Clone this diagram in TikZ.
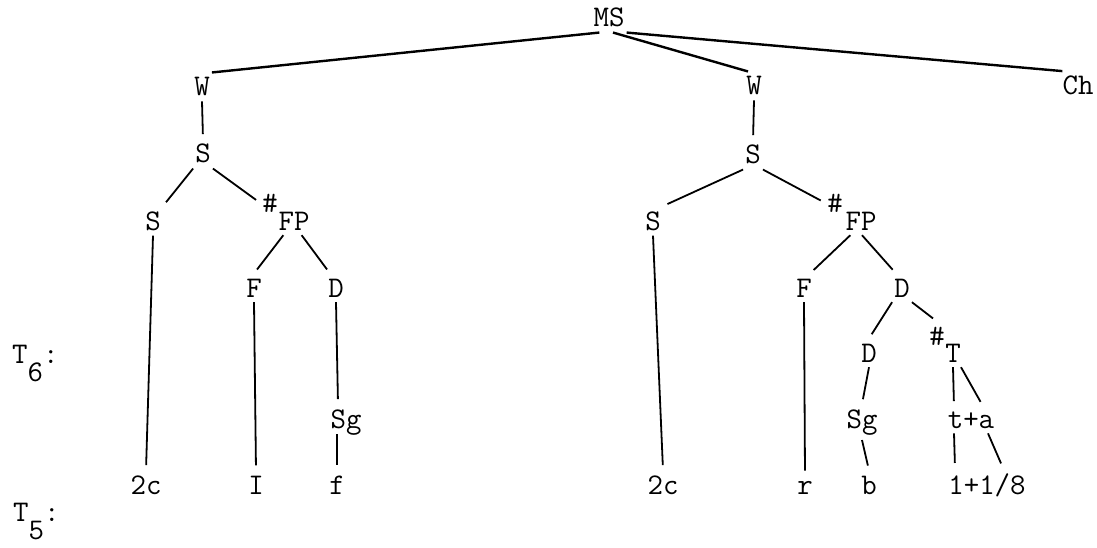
\documentclass[tikz,border=0pt]{standalone}
\usepackage{fontspec}
\begin{document}
\begin{tikzpicture}[x=1pt,y=-1pt,
  lbl/.style={font=\ttfamily\fontsize{30}{36}\selectfont, inner xsep=2pt, inner ysep=5pt, anchor=base},
  edge/.style={line width=1.8pt, shorten >=5pt},
  topedge/.style={line width=2.4pt}]
\useasboundingbox (0,0) rectangle (1097,548);
% nodes
\node[lbl] (ms) at (609,27) {MS};
\node[lbl] (w1) at (202,96) {W};
\node[lbl] (w2) at (754,95) {W};
\node[lbl] (ch) at (1078,95) {Ch};
\node[lbl] (s1) at (203,163) {S};
\node[lbl] (s2) at (753,164) {S};
\node[lbl] (s1a) at (153,230) {S};
\node[lbl] (h1) at (270,212) {\#};
\node[lbl] (fp1) at (294,230) {FP};
\node[lbl] (s2a) at (653,230) {S};
\node[lbl] (h2) at (835,212) {\#};
\node[lbl] (fp2) at (861,230) {FP};
\node[lbl] (f1) at (254,297) {F};
\node[lbl] (d1) at (336,297) {D};
\node[lbl] (f2) at (804,297) {F};
\node[lbl] (d2) at (902,297) {D};
\node[lbl] (d3) at (869,362) {D};
\node[lbl] (h3) at (937,345) {\#};
\node[lbl] (t3) at (953,362) {T};
\node[lbl] (sg1) at (346,428) {Sg};
\node[lbl] (sg2) at (862,428) {Sg};
\node[lbl] (ta) at (971,428) {t+a};
\node[lbl] (c1) at (146,494) {2c};
\node[lbl] (i1) at (256,494) {I};
\node[lbl] (f3) at (337,494) {f};
\node[lbl] (c2) at (663,494) {2c};
\node[lbl] (r2) at (805,494) {r};
\node[lbl] (b2) at (869,494) {b};
\node[lbl] (n18) at (987,494) {1+1/8};
\node[lbl, anchor=base west] (t6) at (10,363) {T\raisebox{-0.63em}{6}:};
\node[lbl, anchor=base west] (t5) at (11,521) {T\raisebox{-0.6em}{5}:};
% top edges
\draw[topedge] ([xshift=8pt]ms.south west) -- (w1.north east);
\draw[topedge] ([xshift=4pt]ms.south) -- ([xshift=-6pt]w2.north);
\draw[topedge] (ms.south east) -- ([xshift=2pt]ch.north west);
% left tree
\draw[edge] (w1.south) -- (s1.north);
\draw[edge] (s1.south west) -- (s1a.north east);
\draw[edge] (s1.south east) -- (h1.west);
\draw[edge] ([xshift=7pt]fp1.south west) -- (f1.north);
\draw[edge] ([xshift=-10pt]fp1.south east) -- ([xshift=-6pt]d1.north);
\draw[edge] (s1a.south) -- (c1.north);
\draw[edge] (f1.south) -- (i1.north);
\draw[edge] (d1.south) -- ([xshift=-8pt]sg1.north);
\draw[edge] ([xshift=-9pt,yshift=6pt]sg1.south) -- (f3.north);
% right tree
\draw[edge] (w2.south) -- (s2.north);
\draw[edge] (s2.south west) -- (s2a.north east);
\draw[edge] (s2.south east) -- (h2.west);
\draw[edge] ([xshift=7pt]fp2.south west) -- ([xshift=6pt]f2.north);
\draw[edge] ([xshift=1pt]fp2.south) -- ([xshift=-6pt]d2.north);
\draw[edge] (s2a.south) -- (c2.north);
\draw[edge] (f2.south) -- (r2.north);
\draw[edge] (d2.south west) -- (d3.north);
\draw[edge] (d2.south east) -- (h3.north);
\draw[edge] (d3.south) -- (sg2.north);
\draw[edge] (sg2.south) -- (b2.north);
\draw[edge] (t3.south) -- ([xshift=-17pt]ta.north);
\draw[edge] ([xshift=8pt]t3.south) -- ([xshift=12pt]ta.north);
\draw[edge] ([xshift=-17pt]ta.south) -- ([xshift=-32pt]n18.north);
\draw[edge] ([xshift=17pt]ta.south) -- ([xshift=16pt]n18.north);
\end{tikzpicture}
\end{document}
